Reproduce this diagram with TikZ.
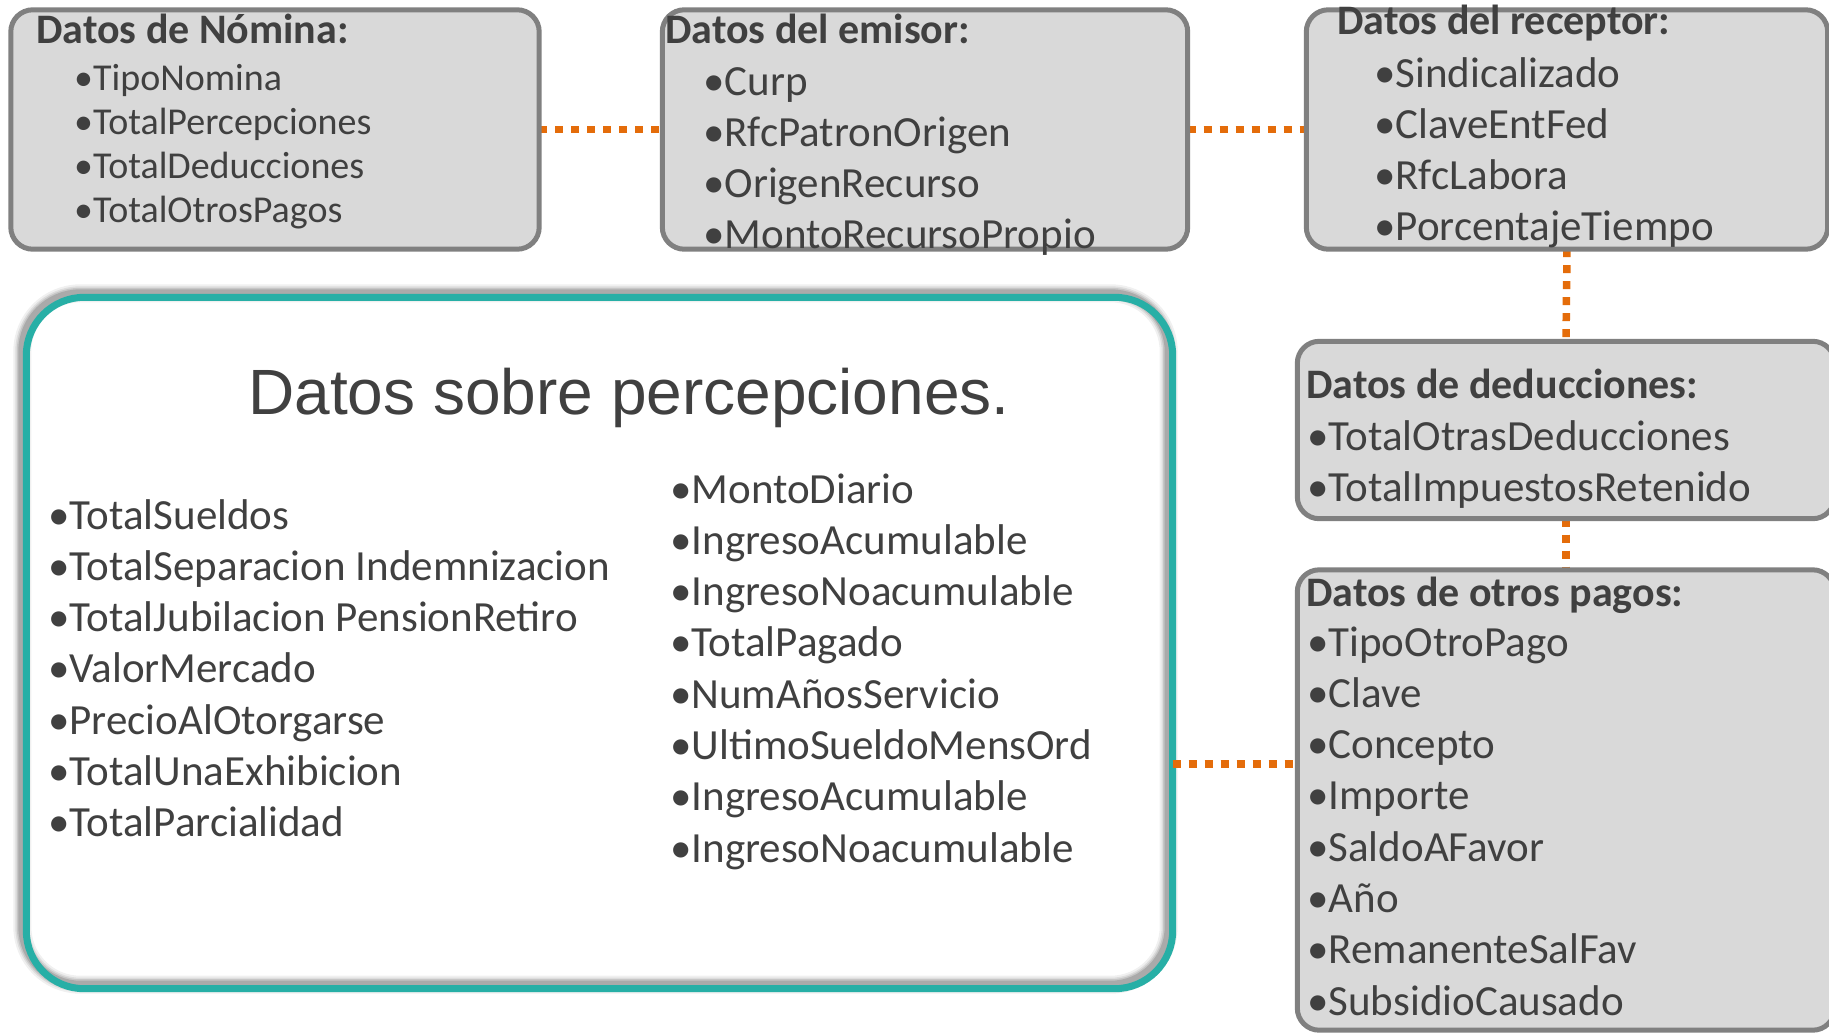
\documentclass[tikz,border=0pt]{standalone}
\usepackage{fontspec}
\setmainfont{Carlito}
\newfontfamily\titlefont{Liberation Sans}
\definecolor{txt}{HTML}{404040}
\definecolor{boxfill}{HTML}{D9D9D9}
\definecolor{boxline}{HTML}{808080}
\definecolor{tealc}{HTML}{27AFA6}
\definecolor{orng}{HTML}{E46C0A}
\begin{document}
\begin{tikzpicture}[x=1pt,y=-1pt,
  conn/.style={draw=orng, line width=7.5pt, dash pattern=on 8pt off 8pt},
  hdr/.style={anchor=base west, inner sep=0pt, font=\fontsize{42}{50}\selectfont\bfseries, text=txt},
  itm/.style={anchor=base west, inner sep=0pt, font=\fontsize{43}{50}\selectfont, text=txt},
  itms/.style={anchor=base west, inner sep=0pt, font=\fontsize{38}{44}\selectfont, text=txt}]
\useasboundingbox[fill=white] (0,0) rectangle (1829,1034);

\path (275,129.5) coordinate (pnom) (925,129.5) coordinate (pemi) (1567,129.5) coordinate (prec)
      (1566,430) coordinate (pded) (1566,800) coordinate (potr) (599.5,643) coordinate (pbig);
\coordinate (cy) at (0,764);

% big box
\node[fill=white, draw=none, minimum width=1146pt, minimum height=691pt, inner sep=0pt, rounded corners=58pt] (big) at (pbig) {};
\foreach \w/\o in {18/0.06, 14/0.08, 11/0.10, 8/0.14}{
  \draw[black, opacity=\o, line width=\w pt, rounded corners=58pt]
    ([shift={(-4,-4)}]big.north west) rectangle ([shift={(-4,-4)}]big.south east);
}
\draw[tealc, line width=7pt, rounded corners=58pt] (big.north west) rectangle (big.south east);

\path node[minimum width=528pt, minimum height=239pt, inner sep=0pt] (nom) at (pnom) {}
      node[minimum width=525pt, minimum height=239pt, inner sep=0pt] (emi) at (pemi) {}
      node[minimum width=521pt, minimum height=239pt, inner sep=0pt] (rec) at (prec) {}
      node[minimum width=537pt, minimum height=177pt, inner sep=0pt] (ded) at (pded) {}
      node[minimum width=537pt, minimum height=460pt, inner sep=0pt] (otr) at (potr) {};

\draw[conn] (nom.east) -- (emi.west);
\draw[conn] (emi.east) -- (rec.west);
\draw[conn] (rec.south) -- (ded.north);
\draw[conn] (ded.south) -- (otr.north);
\draw[conn] (big.east |- cy) -- (otr.west |- cy);

\foreach \b in {nom,emi,rec,ded,otr}{
  \draw[draw=boxline, line width=5pt, fill=boxfill, rounded corners=22pt] (\b.north west) rectangle (\b.south east);
}

% texts
\node[hdr] (h1) at (36,43) {Datos de Nómina:};
\foreach \t [count=\i from 0] in {TipoNomina,TotalPercepciones,TotalDeducciones,TotalOtrosPagos}
  \node[itms] (a\i) at (74,{90+44.3*\i}) {•\t};

\node[hdr] (h2) at (665,43) {Datos del emisor:};
\foreach \t [count=\i from 0] in {Curp,RfcPatronOrigen,OrigenRecurso,MontoRecursoPropio}
  \node[itm] (b\i) at (703,{95+51.3*\i}) {•\t};

\node[hdr] (h3) at (1337,34) {Datos del receptor:};
\foreach \t [count=\i from 0] in {Sindicalizado,ClaveEntFed,RfcLabora,PorcentajeTiempo}
  \node[itm] (c\i) at (1374,{87+51.3*\i}) {•\t};

\node[hdr] (h4) at (1306,398) {Datos de deducciones:};
\foreach \t [count=\i from 0] in {TotalOtrasDeducciones,TotalImpuestosRetenido}
  \node[itm] (d\i) at (1307,{450+51.3*\i}) {•\t};

\node[hdr] (h5) at (1306,606) {Datos de otros pagos:};
\foreach \t [count=\i from 0] in {TipoOtroPago,Clave,Concepto,Importe,SaldoAFavor,Año,RemanenteSalFav,SubsidioCausado}
  \node[itm] (e\i) at (1307,{656+51.3*\i}) {•\t};

\node[anchor=base, inner sep=0pt, text=txt, font=\titlefont\fontsize{64}{72}\selectfont] (title) at (629,414) {Datos sobre percepciones.};
\foreach \t [count=\i from 0] in {TotalSueldos,TotalSeparacion Indemnizacion,TotalJubilacion PensionRetiro,ValorMercado,PrecioAlOtorgarse,TotalUnaExhibicion,TotalParcialidad}
  \node[itm] (l\i) at (48,{529+51.3*\i}) {•\t};
\foreach \t [count=\i from 0] in {MontoDiario,IngresoAcumulable,IngresoNoacumulable,TotalPagado,NumAñosServicio,UltimoSueldoMensOrd,IngresoAcumulable,IngresoNoacumulable}
  \node[itm] (r\i) at (670,{503+51.3*\i}) {•\t};
\end{tikzpicture}
\end{document}
